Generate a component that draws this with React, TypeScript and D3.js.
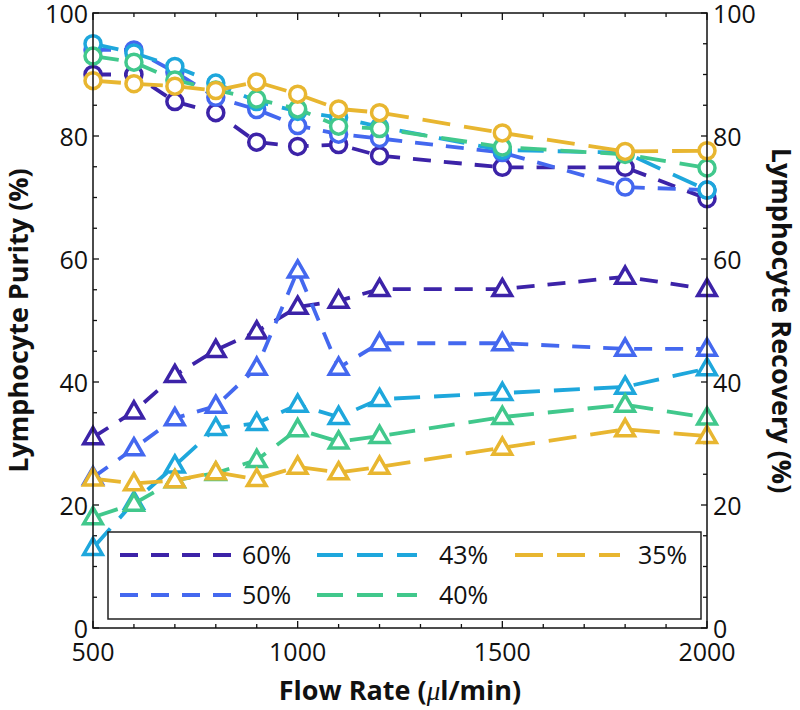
import { useEffect, useRef } from 'react';
import * as d3 from 'd3';

// flow rates (µl/min)
const flowRates = [500, 600, 700, 800, 900, 1000, 1100, 1200, 1500, 1800, 2000];
const seriesNames = ['60%', '50%', '43%', '40%', '35%'];
const seriesColors = ['#3c23a8', '#4468ef', '#1ea7dc', '#41c88c', '#e8b630'];

// purity (circles)
const purity60 = [90, 90, 85.6, 83.8, 79, 78.3, 78.6, 76.8, 74.9, 74.9, 69.8];
const purity50 = [94, 94, 90.4, 86.3, 84.3, 81.7, 80.3, 79.6, 77.3, 71.7, 71.2];
const purity43 = [95, 93.5, 91.3, 88.6, 85.6, 84, 83, 81.5, 77.7, 77.3, 71.2];
const purity40 = [93, 92, 89.1, 87.5, 86, 84.4, 81.6, 81.2, 78.2, 77, 74.8];
const purity35 = [89, 88.5, 88.1, 87.4, 88.8, 86.8, 84.4, 83.8, 80.5, 77.5, 77.6];

// recovery (triangles)
const recovery60 = [31, 35.2, 41.1, 45.2, 48.2, 52.2, 53.2, 55.1, 55.1, 57.1, 55.1];
const recovery50 = [24.5, 29.2, 34.1, 36.1, 42.3, 58.1, 42.3, 46.3, 46.3, 45.4, 45.4];
const recovery43 = [13, 20.5, 26.4, 32.5, 33.3, 36.3, 34.3, 37.2, 38.2, 39.2, 42.2];
const recovery40 = [18, 20.2, 24, 25.2, 27.3, 32.3, 30.3, 31.2, 34.3, 36.3, 34.2];
const recovery35 = [24.3, 23.5, 24, 25.3, 24.2, 26.2, 25.3, 26.2, 29.3, 32.3, 31.2];

const purityAll = [purity60, purity50, purity43, purity40, purity35];
const recoveryAll = [recovery60, recovery50, recovery43, recovery40, recovery35];
const dashes = ['18,13', '18,13', '26,14', '26,14', '28,14'];

const App = () => {
  const ref = useRef(null);

  useEffect(() => {
    const margin = { top: 13, left: 93, right: 93, bottom: 82 };
    const W = 800;
    const H = 710;
    const width = W - margin.left - margin.right;
    const height = H - margin.top - margin.bottom;
    const font = '"Open Sans", sans-serif';

    const root = d3.select(ref.current);
    root.selectAll('*').remove();
    const svg = root
      .append('svg')
      .attr('width', W)
      .attr('height', H)
      .style('position', 'absolute')
      .style('left', 0)
      .style('top', 0)
      .style('background', '#fff');

    const g = svg.append('g').attr('transform', `translate(${margin.left},${margin.top})`);

    const x = d3.scaleLinear().domain([500, 2000]).range([0, width]);
    const y = d3.scaleLinear().domain([0, 100]).range([height, 0]);

    // ticks (inward, on all sides)
    const ax = g.append('g').attr('stroke', '#111').attr('stroke-width', 1.3);
    d3.range(500, 2001, 100).forEach(v => {
      const len = v % 500 === 0 ? 7 : 4;
      ax.append('line').attr('x1', x(v)).attr('x2', x(v)).attr('y1', height).attr('y2', height - len);
      ax.append('line').attr('x1', x(v)).attr('x2', x(v)).attr('y1', 0).attr('y2', len);
    });
    d3.range(0, 101, 5).forEach(v => {
      const len = v % 20 === 0 ? 6 : 4;
      ax.append('line').attr('x1', 0).attr('x2', len).attr('y1', y(v)).attr('y2', y(v));
      ax.append('line').attr('x1', width).attr('x2', width - len).attr('y1', y(v)).attr('y2', y(v));
    });

    // tick labels
    const lbl = svg.append('g').attr('font-family', font).attr('font-size', 25).attr('fill', '#111');
    [500, 1000, 1500, 2000].forEach(v => {
      lbl.append('text').attr('x', margin.left + x(v)).attr('y', margin.top + height + 33)
        .attr('text-anchor', 'middle').text(v);
    });
    d3.range(0, 101, 20).forEach(v => {
      lbl.append('text').attr('x', margin.left - 5).attr('y', margin.top + y(v) + 9.5)
        .attr('text-anchor', 'end').text(v);
      lbl.append('text').attr('x', margin.left + width + 6).attr('y', margin.top + y(v) + 9.5)
        .attr('text-anchor', 'start').text(v);
    });

    // series
    const line = d3.line<number>().x((d, i) => x(flowRates[i])).y(d => y(d));
    const tri = d3.symbol().type(d3.symbolTriangle).size(150);

    seriesNames.forEach((name, s) => {
      const c = seriesColors[s];
      const sg = g.append('g');
      [purityAll[s], recoveryAll[s]].forEach(vals => {
        sg.append('path').attr('d', line(vals)).attr('fill', 'none').attr('stroke', c)
          .attr('stroke-width', 3.8).attr('stroke-dasharray', dashes[s]);
      });
      purityAll[s].forEach((v, i) => {
        sg.append('circle').attr('cx', x(flowRates[i])).attr('cy', y(v)).attr('r', 8)
          .attr('fill', '#fff').attr('stroke', c).attr('stroke-width', 3.5);
      });
      recoveryAll[s].forEach((v, i) => {
        sg.append('path').attr('d', tri()).attr('transform', `translate(${x(flowRates[i])},${y(v) + 1})`)
          .attr('fill', '#fff').attr('stroke', c).attr('stroke-width', 3.5).attr('stroke-linejoin', 'miter');
      });
    });

    // frame
    g.append('rect').attr('x', 0).attr('y', 0).attr('width', width).attr('height', height)
      .attr('fill', 'none').attr('stroke', '#111').attr('stroke-width', 1.5);

    // legend
    const lg = svg.append('g');
    lg.append('rect').attr('x', 108).attr('y', 532).attr('width', 593).attr('height', 87)
      .attr('fill', '#fff').attr('stroke', '#222').attr('stroke-width', 1.5);
    const cols = [
      { x0: 120, x1: 233, tx: 242 },
      { x0: 317, x1: 417, tx: 439 },
      { x0: 515, x1: 620, tx: 638 },
    ];
    const rows = [555, 595];
    seriesNames.forEach((name, s) => {
      const col = cols[Math.floor(s / 2)];
      const ry = rows[s % 2];
      lg.append('line').attr('x1', col.x0).attr('x2', col.x1).attr('y1', ry).attr('y2', ry)
        .attr('stroke', seriesColors[s]).attr('stroke-width', 3.8).attr('stroke-dasharray', dashes[s]);
      lg.append('text').attr('x', col.tx).attr('y', ry + 9).attr('font-family', font)
        .attr('font-size', 25).attr('fill', '#111').text(name);
    });

    // axis titles
    const tt = svg.append('g').attr('font-family', font).attr('font-size', 27)
      .attr('font-weight', 'bold').attr('fill', '#111');
    const xt = tt.append('text').attr('x', margin.left + width / 2).attr('y', 700).attr('text-anchor', 'middle');
    xt.append('tspan').text('Flow Rate (');
    xt.append('tspan').attr('font-style', 'italic').attr('font-weight', 'normal').attr('font-family', 'serif').text('μ');
    xt.append('tspan').text('l/min)');
    tt.append('text').attr('transform', `translate(28,${margin.top + height / 2}) rotate(-90)`)
      .attr('text-anchor', 'middle').text('Lymphocyte Purity (%)');
    tt.append('text').attr('transform', `translate(772,${margin.top + height / 2}) rotate(90)`)
      .attr('text-anchor', 'middle').text('Lymphocyte Recovery (%)');
  }, []);

  return <div ref={ref}></div>;
};

export default App;
